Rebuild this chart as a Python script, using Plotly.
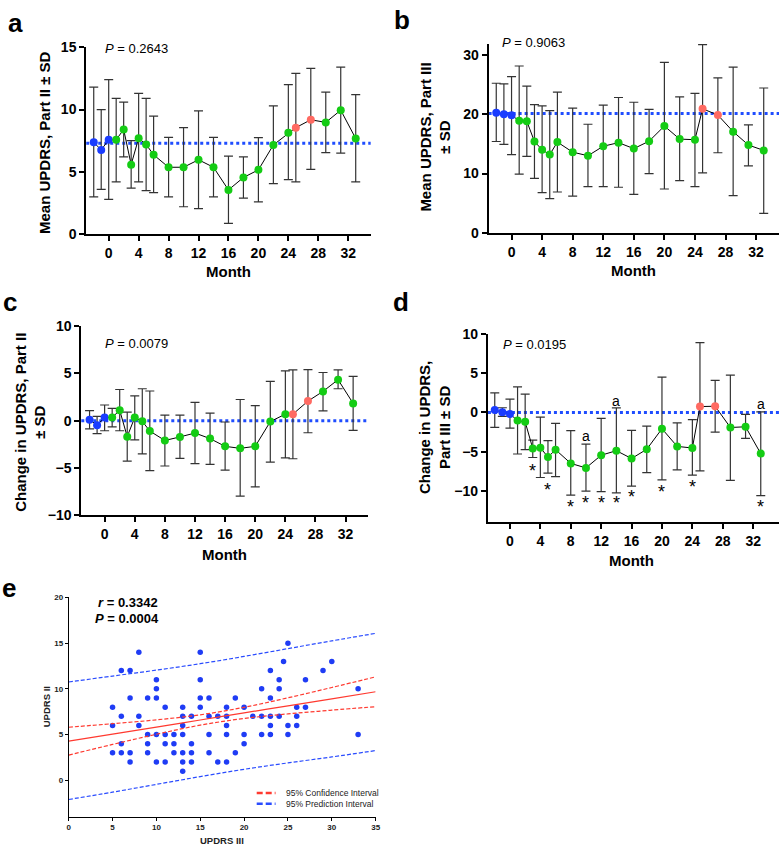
import plotly.graph_objects as go

W, H = 784, 853
FONT = "Liberation Sans, Arial, sans-serif"

# ---- time course data (panels a-d) ----
months = [-2, -1, 0, 1, 2, 3, 4, 5, 6, 8, 10, 12, 14, 16, 18, 20, 22, 24, 25, 27, 29, 31, 33]
phase = ["pre"] * 3 + ["on"] * 15 + ["off"] * 2 + ["on"] * 3
month_ticks = [0, 4, 8, 12, 16, 20, 24, 28, 32]

a_mean = [7.37, 6.76, 7.58, 7.58, 8.4, 5.58, 7.7, 7.2, 6.37, 5.37, 5.37, 5.97, 5.37, 3.55, 4.55, 5.16, 7.16, 8.13, 8.55, 9.18, 8.97, 9.95, 7.68]
a_hi = [11.8, 10.0, 12.4, 10.9, 10.6, 7.5, 11.3, 10.9, 9.47, 7.76, 8.55, 9.9, 7.76, 6.26, 6.2, 7.74, 10.3, 12.0, 12.9, 13.3, 11.4, 13.4, 11.2]
a_lo = [3.0, 3.6, 2.8, 4.2, 6.2, 3.7, 4.2, 3.5, 3.34, 3.0, 2.2, 2.05, 3.0, 0.87, 2.9, 2.6, 4.05, 4.37, 4.2, 5.2, 6.55, 6.5, 4.2]

b_mean = [20.25, 20.0, 19.8, 18.9, 18.8, 15.4, 14.0, 13.2, 15.3, 13.6, 13.0, 14.6, 15.2, 14.2, 15.45, 18.0, 15.8, 15.7, 20.9, 19.85, 17.05, 14.8, 13.9]
b_hi = [25.2, 25.1, 26.3, 28.1, 24.7, 21.6, 21.4, 20.6, 23.7, 21.0, 18.3, 21.5, 22.8, 22.0, 20.8, 28.7, 22.9, 23.5, 31.7, 26.1, 27.9, 18.2, 24.4]
b_lo = [15.4, 14.9, 13.2, 9.9, 12.9, 9.2, 6.8, 5.8, 6.9, 6.2, 7.8, 7.8, 7.7, 6.5, 10.0, 7.4, 8.8, 7.8, 10.1, 13.5, 6.3, 11.3, 3.3]

c_mean = [0.1, -0.48, 0.34, 0.34, 1.1, -1.69, 0.34, -0.07, -1.1, -2.1, -1.72, -1.31, -1.9, -2.72, -2.93, -2.72, -0.1, 0.69, 0.69, 2.07, 3.1, 4.34, 1.83]
c_hi = [1.07, 0.45, 1.66, 1.31, 3.3, 0.9, 2.62, 3.38, 3.14, 0.59, 0.59, 1.93, 0.79, -0.14, 2.24, 1.59, 4.17, 5.28, 5.38, 5.41, 5.1, 5.38, 4.69]
c_lo = [-0.86, -1.38, -1.07, -0.66, -1.07, -4.28, -2.03, -3.52, -5.3, -4.8, -4.0, -4.55, -4.62, -5.24, -8.0, -7.0, -4.38, -3.93, -4.03, -1.28, 1.03, 3.38, -1.03]

d_mean = [0.3, 0.04, -0.2, -1.04, -1.2, -4.6, -4.5, -5.7, -4.75, -6.5, -7.08, -5.46, -4.88, -5.88, -4.7, -2.08, -4.33, -4.54, 0.75, 0.79, -1.92, -1.83, -5.25]
d_hi = [2.5, 0.6, 1.7, 3.25, 2.33, -3.54, -0.6, -3.6, -1.4, -2.33, -4.04, -0.75, 0.58, -2.3, -1.75, 4.5, -1.33, -0.92, 8.9, 4.08, 4.75, -0.25, 0.08]
d_lo = [-1.9, -0.5, -2.0, -5.3, -4.75, -5.75, -8.3, -7.75, -8.2, -10.55, -10.05, -10.1, -10.25, -9.4, -7.67, -8.6, -7.33, -8.0, -7.46, -2.5, -8.67, -3.3, -10.6]

# significance marks in panel d
star_months = [3, 5, 8, 10, 12, 14, 16, 20, 24, 33]
star_y = [-6.9, -9.4, -11.6, -11.05, -11.05, -11.05, -10.3, -9.6, -8.96, -11.6]
a_mark_months = [10, 14, 33]
a_mark_y = [-2.96, 1.45, 1.1]

baselines = {"a": 7.3, "b": 20.1, "c": 0, "d": 0}
p_values = {"a": "0.2643", "b": "0.9063", "c": "0.0079", "d": "0.0195"}

# ---- correlation data (panel e) ----
updrs3 = [5, 5, 5, 6, 6, 6, 6, 7, 7, 7, 7, 8, 8, 8, 9, 9, 9, 9, 10, 10, 10, 10, 10,
          11, 11, 11, 11, 12, 12, 12, 13, 13, 13, 13, 13, 13, 13, 14, 14, 14, 14,
          15, 15, 15, 15, 16, 16, 16, 16, 17, 17, 18, 18, 18, 18, 18, 19, 19,
          20, 20, 20, 21, 22, 22, 22, 23, 23, 23, 23, 23, 24, 24, 24, 24.5,
          25, 25, 25, 26, 26, 26, 27, 27, 29, 30, 33, 33]
updrs2 = [8, 6, 3, 12, 7, 4, 3, 12, 9, 3, 2, 14, 7, 6, 9, 5, 4, 3, 11, 10, 9, 5, 2,
          8, 5, 4, 2, 5, 4, 3, 8, 7, 6, 5, 3, 2, 1, 7, 4, 3, 2,
          14, 11, 9, 8, 9, 7, 5, 3, 7, 2, 8, 7, 6, 5, 2, 9, 3,
          8, 5, 4, 7, 10, 7, 5, 12, 9, 7, 6, 5, 11, 10, 7, 13,
          15, 6, 5, 8, 7, 6, 11, 8, 12, 13, 10, 5]

band_x = [0, 5, 10, 15, 20, 25, 30, 35]
fit_y = [4.28, 5.05, 5.82, 6.59, 7.37, 8.14, 8.91, 9.68]
ci_hi = [5.80, 6.19, 6.61, 7.16, 7.98, 9.02, 10.15, 11.31]
ci_lo = [2.76, 3.92, 5.03, 6.03, 6.76, 7.26, 7.67, 8.05]
pi_hi = [10.75, 11.40, 12.05, 12.75, 13.55, 14.40, 15.25, 16.07]
pi_lo = [-2.10, -1.30, -0.45, 0.40, 1.20, 1.90, 2.55, 3.25]

COLORS = {"pre": "#1a3cff", "on": "#14cc14", "off": "#ff6a62"}
DOT_BLUE = "#1f4dff"


def px(x):
    return x / W


def py(y):
    return 1 - y / H


fig = go.Figure()

panels = [
    ("a", "x", "y", a_mean, a_hi, a_lo),
    ("b", "x2", "y2", b_mean, b_hi, b_lo),
    ("c", "x3", "y3", c_mean, c_hi, c_lo),
    ("d", "x4", "y4", d_mean, d_hi, d_lo),
]
for key, xa, ya, mean, hi, lo in panels:
    fig.add_shape(type="line", xref=xa + " domain", yref=ya, x0=0, x1=1,
                  y0=baselines[key], y1=baselines[key],
                  line=dict(color=DOT_BLUE, width=3, dash="dot"), layer="below")
    # connecting line + SD bars
    fig.add_trace(go.Scatter(
        x=months, y=mean, xaxis=xa, yaxis=ya, mode="lines",
        line=dict(color="black", width=1),
        error_y=dict(type="data", symmetric=False,
                     array=[h - m for h, m in zip(hi, mean)],
                     arrayminus=[m - l for m, l in zip(mean, lo)],
                     color="#333333", thickness=1.2, width=4.5),
        showlegend=False, cliponaxis=False,
    ))
    # dots on top
    fig.add_trace(go.Scatter(
        x=months, y=mean, xaxis=xa, yaxis=ya, mode="markers",
        marker=dict(color=[COLORS[p] for p in phase], size=8),
        showlegend=False, cliponaxis=False,
    ))

# panel e
fig.add_trace(go.Scatter(x=updrs3, y=updrs2, xaxis="x5", yaxis="y5", mode="markers",
                         marker=dict(color="#1f3cf5", size=5.5), showlegend=False))
for yy, col, dash in [(pi_hi, "#2a4cff", "4px,2px"), (pi_lo, "#2a4cff", "4px,2px"),
                      (ci_hi, "#ff3a30", "4px,2px"), (ci_lo, "#ff3a30", "4px,2px"),
                      (fit_y, "#ff3a30", "solid")]:
    fig.add_trace(go.Scatter(x=band_x, y=yy, xaxis="x5", yaxis="y5", mode="lines",
                             line=dict(color=col, width=1.2, dash=dash, shape="spline"),
                             showlegend=False))

big_axis = dict(showline=True, linewidth=2, linecolor="black", ticks="outside", ticklen=5,
                tickwidth=2, tickcolor="black", showgrid=False, zeroline=False,
                tickfont=dict(family=FONT, size=14, color="black", weight="bold"))

layout = dict(
    width=W, height=H, margin=dict(l=0, r=0, t=0, b=0),
    paper_bgcolor="white", plot_bgcolor="white",
    xaxis=dict(big_axis, domain=[px(85), px(372)], range=[-3, 35], tickvals=month_ticks, anchor="y"),
    yaxis=dict(big_axis, domain=[py(230.5), py(40)], range=[0, 15], tickvals=[0, 5, 10, 15], anchor="x"),
    xaxis2=dict(big_axis, domain=[px(491), 1.0], range=[-3, 35], tickvals=month_ticks, anchor="y2"),
    yaxis2=dict(big_axis, domain=[py(229.3), py(36.7)], range=[0, 31.8], tickvals=[0, 10, 20, 30], anchor="x2"),
    xaxis3=dict(big_axis, domain=[px(80), px(369.5)], range=[-3.1, 35], tickvals=month_ticks, anchor="y3"),
    yaxis3=dict(big_axis, domain=[py(516.8), py(324.3)], range=[-10, 10], tickvals=[-10, -5, 0, 5, 10], anchor="x3"),
    xaxis4=dict(big_axis, domain=[px(490.3), 1.0], range=[-2.9, 35.4], tickvals=month_ticks, anchor="y4"),
    yaxis4=dict(big_axis, domain=[py(524), py(332.3)], range=[-14, 10], tickvals=[-10, -5, 0, 5, 10], anchor="x4"),
    xaxis5=dict(domain=[px(67.3), px(377)], range=[0, 35], tickvals=[0, 5, 10, 15, 20, 25, 30, 35],
                showline=True, linewidth=1, linecolor="black", ticks="outside", ticklen=3, tickcolor="black",
                showgrid=False, zeroline=False, anchor="y5",
                tickfont=dict(family=FONT, size=8, color="#222222", weight="bold")),
    yaxis5=dict(domain=[py(824.3), py(600.7)], range=[-4, 20], tickvals=[0, 5, 10, 15, 20],
                showline=True, linewidth=1, linecolor="black", ticks="outside", ticklen=3, tickcolor="black",
                showgrid=False, zeroline=False, anchor="x5",
                tickfont=dict(family=FONT, size=8, color="#222222", weight="bold")),
)
fig.update_layout(**layout)

ann = []


def text(x, y, s, size, bold=False, angle=0, xanchor="center", color="black"):
    ann.append(dict(x=px(x), y=py(y), xref="paper", yref="paper", text=s, showarrow=False,
                    textangle=angle, xanchor=xanchor, yanchor="middle",
                    font=dict(family=FONT, size=size, color=color, weight="bold" if bold else "normal")))


# panel letters
for s, x, y in [("a", 14, 15), ("b", 404, 12), ("c", 8, 300), ("d", 403, 300), ("e", 7, 591)]:
    text(x, y, s, 26, bold=True)

# axis titles
text(43, 137, "Mean UPDRS, Part II ± SD", 15, bold=True, angle=-90)
text(437, 132, "Mean UPDRS, Part III<br>± SD", 15, bold=True, angle=-90)
text(28, 422, "Change in UPDRS, Part II<br>± SD", 15, bold=True, angle=-90)
text(437, 428, "Change in UPDRS,<br>Part III ± SD", 15, bold=True, angle=-90)
text(228.5, 269, "Month", 15, bold=True)
text(637.5, 268, "Month", 15, bold=True)
text(225, 557, "Month", 15, bold=True)
text(635, 563, "Month", 15, bold=True)

# P values
text(101.7, 41.7, "<i>P</i> = " + p_values["a"], 13, xanchor="left")
text(502, 35, "<i>P</i> = " + p_values["b"], 13, xanchor="left")
text(101.7, 341.7, "<i>P</i> = " + p_values["c"], 13, xanchor="left")
text(503, 342.7, "<i>P</i> = " + p_values["d"], 13, xanchor="left")

# panel e texts
text(95, 606, "<i>r</i> = 0.3342", 13, bold=True, xanchor="left")
text(92.3, 621.7, "<i>P</i> = 0.0004", 13, bold=True, xanchor="left")
text(222, 848, "UPDRS III", 9.5, bold=True, color="#222222")
text(45, 712, "UPDRS II", 9.5, bold=True, angle=-90, color="#222222")
text(285, 800, "95% Confidence Interval", 8.5, xanchor="left", color="#222222")
text(285, 811, "95% Prediction Interval", 8.5, xanchor="left", color="#222222")

# significance marks in panel d (asterisk glyph sits high in its box, so nudge it down)
for m, yv in zip(star_months, star_y):
    ann.append(dict(x=m, y=yv, xref="x4", yref="y4", text="*", showarrow=False, yshift=-4,
                    font=dict(family=FONT, size=18, color="black")))
for m, yv in zip(a_mark_months, a_mark_y):
    ann.append(dict(x=m, y=yv, xref="x4", yref="y4", text="a", showarrow=False,
                    font=dict(family=FONT, size=14, color="black")))

fig.update_layout(annotations=ann)

# legend samples for panel e
for yy, col in [(800, "#ff3a30"), (811, "#2a4cff")]:
    fig.add_shape(type="line", xref="paper", yref="paper", x0=px(257), x1=px(276), y0=py(yy), y1=py(yy),
                  line=dict(color=col, width=2.5, dash="6px,3px"))

# the page body has a default margin; drop it so the figure sits at the window origin
fig.write_html("out.html", config={"displayModeBar": False},
               post_script="document.body.style.margin='0';")
